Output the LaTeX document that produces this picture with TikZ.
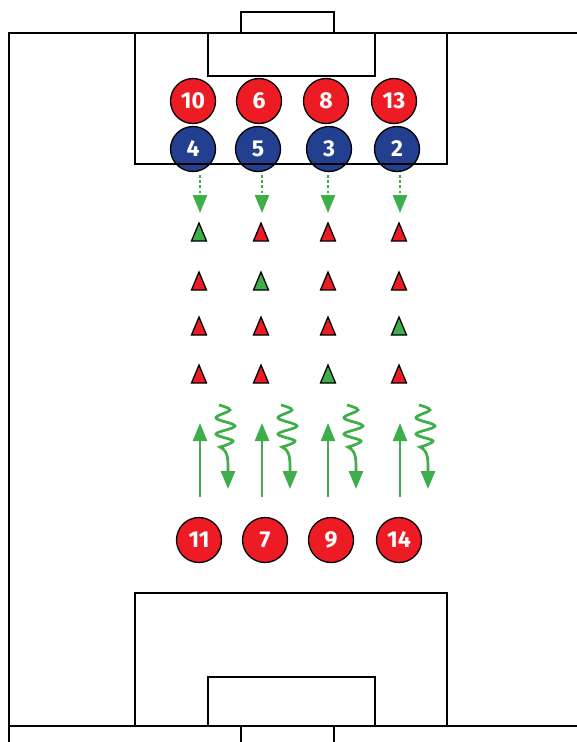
\documentclass[tikz,border=0pt]{standalone}
\usepackage{fontspec}
\setmainfont{Fira Sans}
\usetikzlibrary{arrows.meta}
\definecolor{pred}{HTML}{ED1C24}
\definecolor{pblue}{HTML}{233F8F}
\definecolor{pgreen}{HTML}{3DAE49}
\begin{document}
\begin{tikzpicture}[x=1pt,y=-1pt,
  pitchline/.style={line width=2.8pt, draw=black},
  player/.style={circle, draw=black, line width=1.3pt, minimum size=45pt, inner sep=0pt,
    text=white, font=\bfseries\fontsize{23}{23}\selectfont},
  redp/.style={player, fill=pred},
  bluep/.style={player, fill=pblue},
  conebox/.style={draw=black, line width=1.3pt, line join=miter},
  runarrow/.style={draw=pgreen, line width=2.6pt, -{Triangle[width=14pt,length=18pt]}},
  passarrow/.style={draw=pgreen, line width=2.6pt, dash pattern=on 2.6pt off 2.6pt,
    -{Triangle[width=14pt,length=18pt]}},
  dribble/.style={draw=pgreen, line width=2.7pt, -{Triangle[width=14pt,length=18pt]}}
]
\useasboundingbox (0,0) rectangle (577,742);

% players top
\node[redp] (r10) at (193,101) {10};
\node[redp] (r6)  at (259,101) {6};
\node[redp] (r8)  at (326,101) {8};
\node[redp] (r13) at (394,101) {13};
\node[bluep] (b4) at (193,149) {4};
\node[bluep] (b5) at (258,149) {5};
\node[bluep] (b3) at (329,149) {3};
\node[bluep] (b2) at (397,149) {2};

% players bottom
\node[redp] (r11) at (199,540) {11};
\node[redp] (r7)  at (265,540) {7};
\node[redp] (r9)  at (331,540) {9};
\node[redp] (r14) at (399,540) {14};

% pitch top
\draw[pitchline] (9,742) -- (9,33) -- (577,33);
\draw[pitchline] (241,33) -- (241,12) -- (334,12) -- (334,33);
\draw[pitchline] (135,33) -- (135,164) -- (447,164) -- (447,33);
\draw[pitchline] (208,33) -- (208,76) -- (375,76) -- (375,33);
% pitch bottom
\draw[pitchline] (9,726) -- (577,726);
\draw[pitchline] (135,726) -- (135,593) -- (447,593) -- (447,726);
\draw[pitchline] (208,726) -- (208,677) -- (375,677) -- (375,726);
\draw[pitchline] (241,726) -- (241,742);
\draw[pitchline] (334,726) -- (334,742);

% passes
\foreach \x/\n in {200/b4,262/b5,328/b3,400/b2}{
  \coordinate (p\n) at (\x,213);
  \draw[passarrow] (\x,175) -- (p\n);
}

% cones
\foreach \x/\y/\c in {
  199/241/pgreen, 261/241/pred, 328/241/pred, 399/241/pred,
  199/290/pred, 261/290/pgreen, 328/290/pred, 399/290/pred,
  199/335/pred, 261/335/pred, 328/335/pred, 399/335/pgreen,
  199/383/pred, 261/383/pred, 328/383/pgreen, 399/383/pred}{
  \filldraw[conebox, fill=\c] (\x-7.5,\y) -- (\x,\y-18) -- (\x+7.5,\y) -- cycle;
}

% runs and dribbles
\foreach \x in {200,262,328,400}{
  \draw[runarrow] (\x,497) -- (\x,423);
  \draw[dribble] plot[smooth, tension=0.6] coordinates {
    (\x+19,405) (\x+30,410) (\x+16,418) (\x+35,426) (\x+16,434) (\x+33,441) (\x+20,447)}
    .. controls (\x+28,451) and (\x+28,458) .. (\x+28,470) -- (\x+28,489);
}
\end{tikzpicture}
\end{document}
